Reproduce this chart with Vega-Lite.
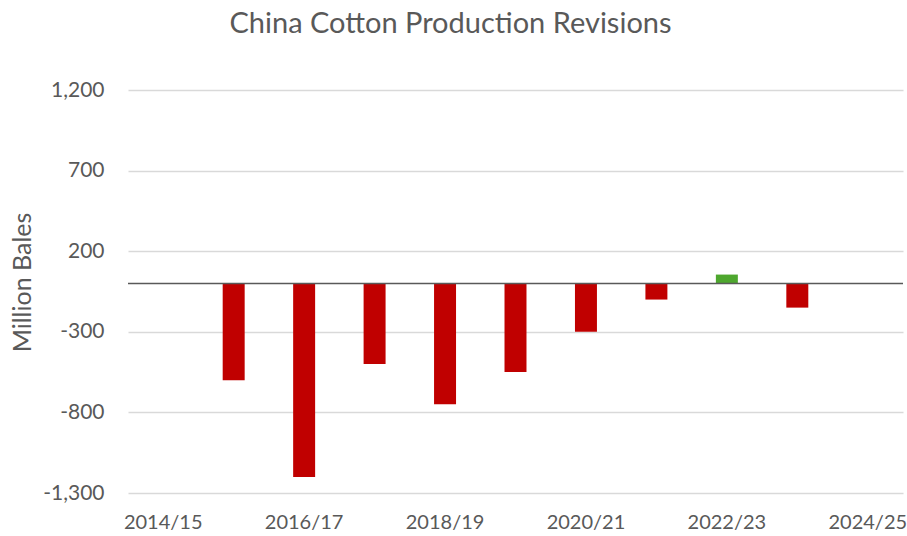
{
  "$schema": "https://vega.github.io/schema/vega-lite/v6.json",
  "width": 775,
  "height": 403,
  "autosize": {"type": "none"},
  "padding": {"left": 128, "top": 90, "right": 4, "bottom": 43},
  "background": "white",
  "config": {
    "font": "Lato",
    "view": {"stroke": null}
  },
  "title": {
    "text": "China Cotton Production Revisions",
    "font": "Lato",
    "fontSize": 29,
    "fontWeight": "normal",
    "color": "#595959",
    "anchor": "middle",
    "dx": -65,
    "offset": 40
  },
  "data": {
    "values": [
      {"year": "2014/15", "revision": null},
      {"year": "2015/16", "revision": -600},
      {"year": "2016/17", "revision": -1200},
      {"year": "2017/18", "revision": -500},
      {"year": "2018/19", "revision": -750},
      {"year": "2019/20", "revision": -550},
      {"year": "2020/21", "revision": -300},
      {"year": "2021/22", "revision": -100},
      {"year": "2022/23", "revision": 55},
      {"year": "2023/24", "revision": -150},
      {"year": "2024/25", "revision": null}
    ]
  },
  "layer": [
    {
      "mark": {"type": "bar"},
      "encoding": {
        "x": {
          "field": "year",
          "type": "ordinal",
          "sort": null,
          "scale": {
            "domain": ["2014/15", "2015/16", "2016/17", "2017/18", "2018/19", "2019/20", "2020/21", "2021/22", "2022/23", "2023/24", "2024/25"],
            "paddingInner": 0.688,
            "paddingOuter": 0.344
          },
          "axis": {
            "title": null,
            "values": ["2014/15", "2016/17", "2018/19", "2020/21", "2022/23", "2024/25"],
            "labelAngle": 0,
            "labelFontSize": 20,
            "labelColor": "#595959",
            "labelFont": "Lato",
            "labelPadding": 19,
            "ticks": false,
            "domain": false,
            "grid": false
          }
        },
        "y": {
          "field": "revision",
          "type": "quantitative",
          "scale": {"domain": [-1300, 1200], "nice": false, "zero": false},
          "axis": {
            "title": "Million Bales",
            "titleFontSize": 25,
            "titleFontWeight": "normal",
            "titleColor": "#595959",
            "titleFont": "Lato",
            "titleX": -106,
            "titleY": 192,
            "titleBaseline": "middle",
            "titleAlign": "center",
            "titleAngle": -90,
            "values": [-1300, -800, -300, 200, 700, 1200],
            "labelExpr": "replace(format(datum.value, ',.0f'), '\u2212', '-')",
            "labelFontSize": 21,
            "labelColor": "#595959",
            "labelFont": "Lato",
            "labelPadding": 24,
            "ticks": false,
            "domain": false,
            "grid": true,
            "gridColor": "#D9D9D9",
            "gridWidth": 1.5
          }
        },
        "color": {
          "condition": {"test": "datum.revision > 0", "value": "#4EA72E"},
          "value": "#C00000"
        }
      }
    },
    {
      "data": {"values": [{"zero": 0}]},
      "mark": {"type": "rule", "color": "#595959", "strokeWidth": 1.5},
      "encoding": {
        "y": {"field": "zero", "type": "quantitative"}
      }
    }
  ]
}
